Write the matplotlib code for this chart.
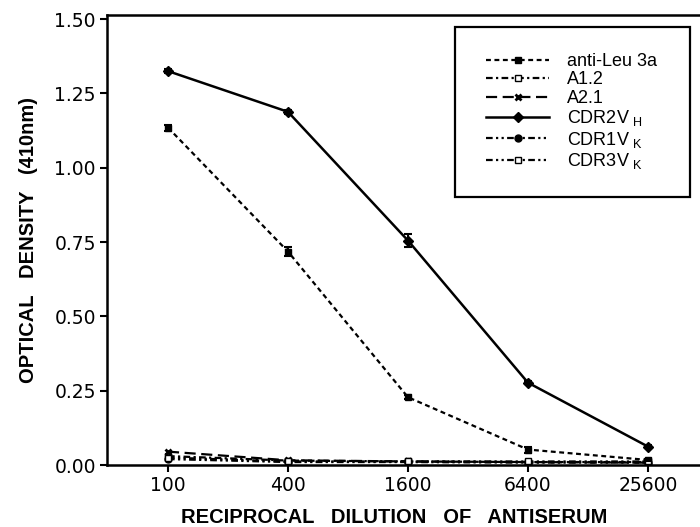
import matplotlib
matplotlib.use("Agg")
import matplotlib.pyplot as plt
from matplotlib.patches import Rectangle

plt.rcParams["font.family"] = ["DejaVu Sans"]
plt.rcParams["mathtext.default"] = "regular"

dilution = [100, 400, 1600, 6400, 25600]
tick_labels = ["100", "400", "1600", "6400", "25600"]

anti_leu = [1.135, 0.718, 0.228, 0.052, 0.017]
anti_leu_err = [0.010, 0.014, 0.006, 0.010, 0.004]
a12 = [0.030, 0.015, 0.012, 0.010, 0.010]
a21 = [0.045, 0.016, 0.012, 0.010, 0.008]
cdr2vh = [1.325, 1.188, 0.755, 0.277, 0.062]
cdr2vh_err = [0.008, 0.006, 0.022, 0.006, 0.004]
cdr1vk = [0.020, 0.010, 0.010, 0.008, 0.008]
cdr3vk = [0.025, 0.012, 0.012, 0.012, 0.012]

fig = plt.figure(figsize=(7.0, 5.27), dpi=100)
ax = fig.add_axes([0.153, 0.1176, 0.847, 0.853])

dashdot2 = (0, (3, 1.5, 1, 1.5, 1, 1.5))
l1, = ax.plot(dilution, anti_leu, color="black", ls=(0, (2.2, 1.6)), lw=1.6,
              marker="s", ms=4, label="anti-Leu 3a")
l2, = ax.plot(dilution, a12, color="black", ls=(0, (3, 1.5, 1, 1.5)), lw=1.6,
              marker="s", ms=5, mfc="white", label="A1.2")
l3, = ax.plot(dilution, a21, color="black", ls=(0, (5, 2.5)), lw=1.6,
              marker="x", ms=5, mew=2, label="A2.1")
l4, = ax.plot(dilution, cdr2vh, color="black", ls="-", lw=1.8,
              marker="D", ms=5, label="CDR2V$_{\\ H}$")
l5, = ax.plot(dilution, cdr1vk, color="black", ls=dashdot2, lw=1.6,
              marker="o", ms=5, label="CDR1V$_{\\ K}$")
l6, = ax.plot(dilution, cdr3vk, color="black", ls=dashdot2, lw=1.6,
              marker="s", ms=5, mfc="white", label="CDR3V$_{\\ K}$")
ax.errorbar(dilution, anti_leu, yerr=anti_leu_err, fmt="none", ecolor="black",
            elinewidth=1.5, capsize=3, capthick=1.5)
ax.errorbar(dilution, cdr2vh, yerr=cdr2vh_err, fmt="none", ecolor="black",
            elinewidth=1.5, capsize=3, capthick=1.5)

ax.set_xscale("log", base=4)
ax.set_xlim(49.5, 46700)
ax.set_xticks(dilution)
ax.set_xticklabels(tick_labels)
ax.minorticks_off()
ax.set_ylim(0, 1.512)
ax.set_yticks([0, 0.25, 0.5, 0.75, 1.0, 1.25, 1.5])
ax.set_yticklabels(["0.00", "0.25", "0.50", "0.75", "1.00", "1.25", "1.50"])

ax.spines["right"].set_visible(False)
for s in ["left", "bottom", "top"]:
    ax.spines[s].set_linewidth(1.8)
ax.tick_params(direction="out", length=5, width=1.5, labelsize=13.5, pad=3)

ax.set_xlabel("RECIPROCAL   DILUTION   OF   ANTISERUM", fontsize=14.5, fontweight="bold",
              family="Liberation Sans")
ax.xaxis.set_label_coords(0.485, -0.095)
ax.set_ylabel("OPTICAL   DENSITY   (410nm)", fontsize=14.5, fontweight="bold",
              family="Liberation Sans", labelpad=12)

# legend frame drawn by hand, entries placed inside it
fig.add_artist(Rectangle((455 / 700, 1 - 197 / 527), 235 / 700, 170 / 527,
                         transform=fig.transFigure, fill=False, ec="black", lw=1.6))
leg = fig.legend(handles=[l1, l2, l3, l4, l5, l6], loc="upper left",
                 bbox_to_anchor=(486 / 700, 1 - 53 / 527), frameon=False,
                 handlelength=3.5, labelspacing=0.08, borderpad=0,
                 handletextpad=1.0, borderaxespad=0,
                 prop={"family": "Liberation Sans", "size": 13})

fig.savefig("out.png", dpi=100)
